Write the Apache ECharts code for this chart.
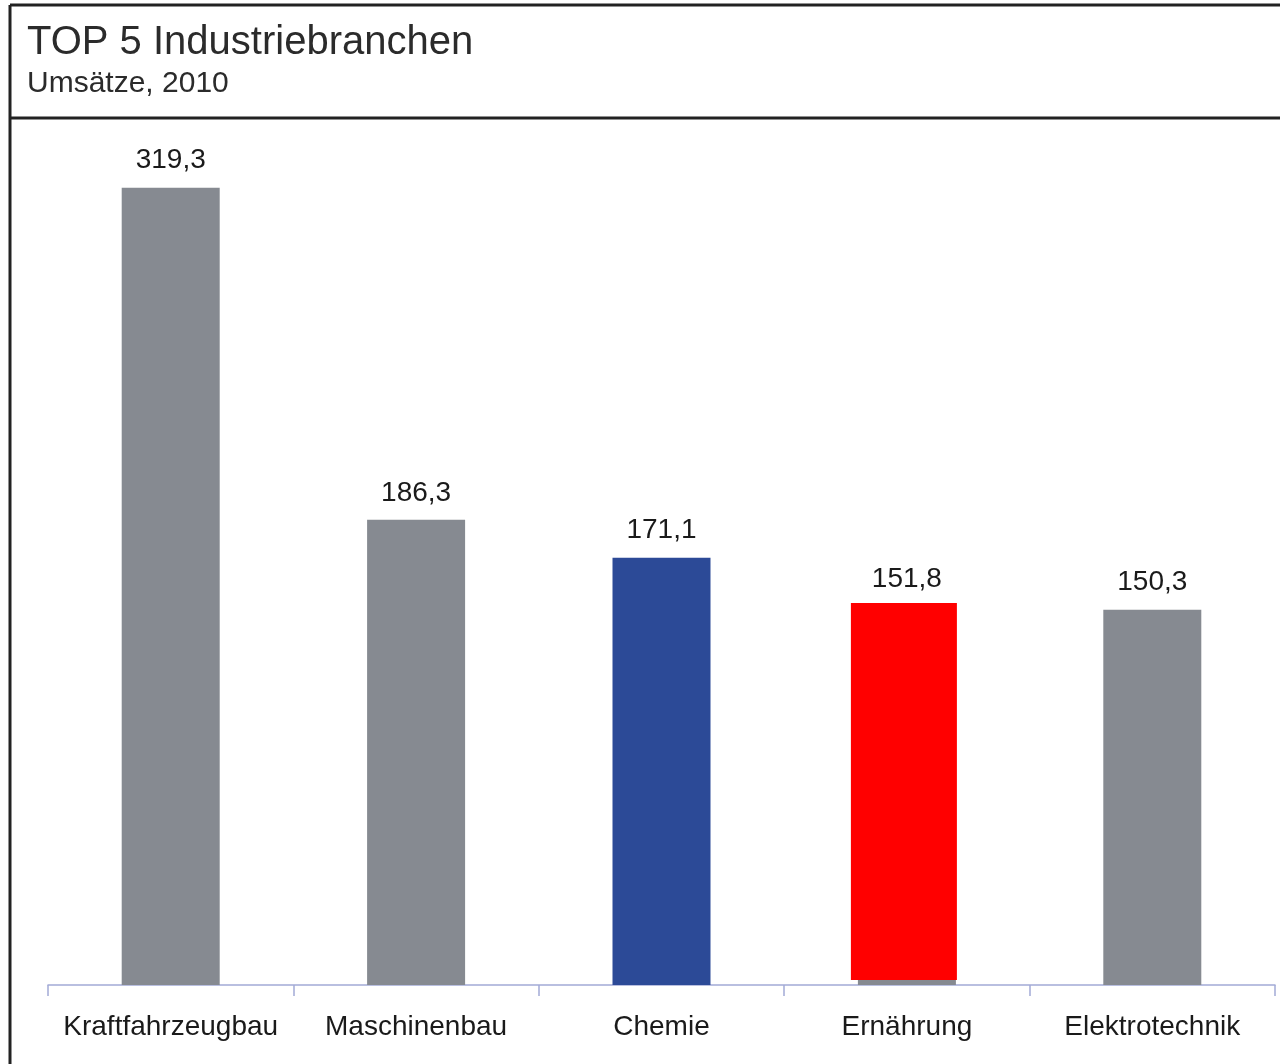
<!DOCTYPE html>
<html>
<head>
<meta charset="utf-8">
<script src="https://cdn.jsdelivr.net/npm/echarts@6/dist/echarts.min.js"></script>
<style>
  html, body { margin: 0; padding: 0; background: #fff; }
  #chart { width: 1280px; height: 1064px; }
</style>
</head>
<body>
<div id="chart"></div>
<script>
// Daten
var categories = ['Kraftfahrzeugbau', 'Maschinenbau', 'Chemie', 'Ernährung', 'Elektrotechnik']
var umsaetze = [319.3, 186.3, 171.1, 151.8, 150.3]
var barColors = ['#868a91', '#868a91', '#2c4a97', '#868a91', '#868a91']
// rote Markierung über "Ernährung" (Unterkante, Oberkante)
var markIndex = [3]
var markBase = [2]
var markTop = [153]

var chart = echarts.init(document.getElementById('chart'))

var font = '"Liberation Sans", Arial, sans-serif'

var option = {
  animation: false,
  backgroundColor: '#fff',
  title: {
    text: 'TOP 5 Industriebranchen',
    subtext: 'Umsätze, 2010',
    left: 22,
    top: 18,
    itemGap: 6,
    textStyle: { fontFamily: font, fontSize: 40, fontWeight: 'normal', color: '#2b2b2b' },
    subtextStyle: { fontFamily: font, fontSize: 30, color: '#2b2b2b' }
  },
  grid: {
    left: 48,
    right: 5,
    top: 136,
    bottom: 79
  },
  xAxis: {
    type: 'category',
    data: categories,
    axisLine: { show: true, lineStyle: { color: '#a3abd6', width: 1.5 } },
    axisTick: { show: true, alignWithLabel: false, length: 11, lineStyle: { color: '#a3abd6', width: 1.5 } },
    axisLabel: {
      interval: 0,
      margin: 28,
      fontFamily: font,
      fontSize: 28,
      color: '#1a1a1a'
    }
  },
  yAxis: {
    type: 'value',
    min: 0,
    max: 340,
    show: false,
    splitLine: { show: false }
  },
  series: [
    {
      name: 'Umsätze',
      type: 'bar',
      barWidth: 98,
      data: umsaetze.map(function (v, i) {
        return { value: v, itemStyle: { color: barColors[i] } }
      }),
      label: {
        show: true,
        position: 'top',
        distance: 13,
        fontFamily: font,
        fontSize: 28,
        color: '#1a1a1a',
        formatter: function (p) {
          return p.value.toFixed(1).replace('.', ',')
        }
      }
    },
    {
      name: 'Markierung',
      type: 'custom',
      z: 3,
      data: markIndex.map(function (c, i) { return [c, markBase[i], markTop[i]] }),
      renderItem: function (params, api) {
        var bottom = api.coord([api.value(0), api.value(1)])
        var top = api.coord([api.value(0), api.value(2)])
        var w = 106
        return {
          type: 'rect',
          shape: { x: top[0] - w / 2 - 3, y: top[1], width: w, height: bottom[1] - top[1] },
          style: { fill: '#ff0000' }
        }
      }
    }
  ],
  graphic: [
    { type: 'line', shape: { x1: 10, y1: 5, x2: 10, y2: 1064 }, style: { stroke: '#222', lineWidth: 3 } },
    { type: 'line', shape: { x1: 10, y1: 5, x2: 1280, y2: 5 }, style: { stroke: '#222', lineWidth: 3 } },
    { type: 'line', shape: { x1: 10, y1: 118, x2: 1280, y2: 118 }, style: { stroke: '#222', lineWidth: 3 } }
  ]
}

chart.setOption(option)
</script>
</body>
</html>
